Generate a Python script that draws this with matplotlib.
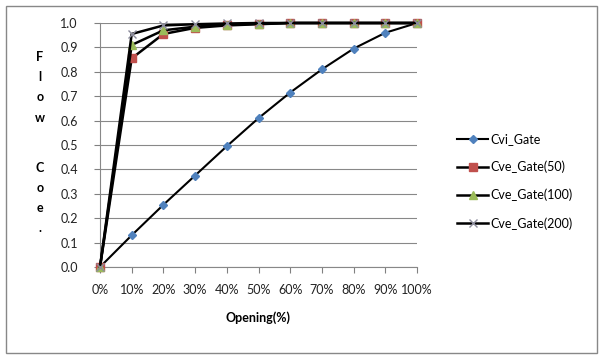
import matplotlib.pyplot as plt
import numpy as np
from matplotlib.patches import Rectangle

plt.rcParams['font.family'] = ['Lato', 'DejaVu Sans']

# valve opening categories and flow coefficients
openings = ['0%', '10%', '20%', '30%', '40%', '50%', '60%', '70%', '80%', '90%', '100%']
cvi_gate = [0.0, 0.13, 0.255, 0.375, 0.495, 0.61, 0.715, 0.81, 0.895, 0.96, 1.0]
cve_gate_50 = [0.0, 0.855, 0.955, 0.98, 0.99, 0.995, 1.0, 1.0, 1.0, 1.0, 1.0]
cve_gate_100 = [0.0, 0.91, 0.97, 0.985, 0.993, 0.997, 1.0, 1.0, 1.0, 1.0, 1.0]
cve_gate_200 = [0.0, 0.955, 0.99, 0.995, 0.998, 1.0, 1.0, 1.0, 1.0, 1.0, 1.0]

fig = plt.figure(figsize=(6.03, 3.57), dpi=100)
ax = fig.add_axes([100 / 603, 1 - 267 / 357, 317 / 603, 244 / 357])

x = np.arange(len(openings))
ax.plot(x, cvi_gate, color='black', lw=1.5, marker='D', ms=4,
        mfc='#4F81BD', mec='#4F81BD', label='Cvi_Gate', clip_on=False, zorder=3)
ax.plot(x, cve_gate_50, color='black', lw=1.8, marker='s', ms=6,
        mfc='#C0504D', mec='#C0504D', label='Cve_Gate(50)', clip_on=False, zorder=3)
ax.plot(x, cve_gate_100, color='black', lw=1.8, marker='^', ms=6,
        mfc='#9BBB59', mec='#9BBB59', label='Cve_Gate(100)', clip_on=False, zorder=3)
ax.plot(x, cve_gate_200, color='black', lw=1.8, marker='x', ms=6, mew=1,
        mfc='#8C8C9C', mec='#8C8C9C', label='Cve_Gate(200)', clip_on=False, zorder=3)

ax.set_xlim(0, 10)
ax.set_ylim(0, 1.0)
ax.set_xticks(x)
ax.set_xticklabels(openings)
ax.set_yticks(np.arange(0, 1.01, 0.1))
ax.set_yticklabels(['%.1f' % v for v in np.arange(0, 1.01, 0.1)])
ax.tick_params(axis='both', labelsize=9, colors='#808080', labelcolor='#222222',
               length=4, width=0.8, direction='out')
ax.tick_params(axis='x', pad=8)
ax.tick_params(axis='y', pad=12)
ax.grid(axis='y', color='#888888', lw=0.8)
ax.set_axisbelow(True)
for s in ['top', 'right']:
    ax.spines[s].set_visible(False)
for s in ['left', 'bottom']:
    ax.spines[s].set_color('#888888')
    ax.spines[s].set_linewidth(0.8)

ax.set_xlabel('Opening(%)', fontsize=9, fontweight='bold', labelpad=11)

# stacked letters for the y axis title
ylabel = 'Flow Coe.'
ys = [57, 77, 97, 118, 168, 188, 208, 228]
chars = [c for c in ylabel if c != ' ']
for ch, yy in zip(chars, ys):
    fig.text(40 / 603, 1 - yy / 357, ch, fontsize=9, fontweight='bold',
             ha='center', va='center')

fig.legend(loc='upper left', bbox_to_anchor=(452 / 603, 1 - 128 / 357),
           frameon=False, fontsize=9, handlelength=2.5, labelspacing=1.25,
           handletextpad=0.2, borderaxespad=0)

fig.patches.append(Rectangle((6 / 603, 4 / 357), 591 / 603, 347 / 357,
                             transform=fig.transFigure, fill=False,
                             edgecolor='#888888', lw=1))

fig.savefig('out.png', dpi=100)
